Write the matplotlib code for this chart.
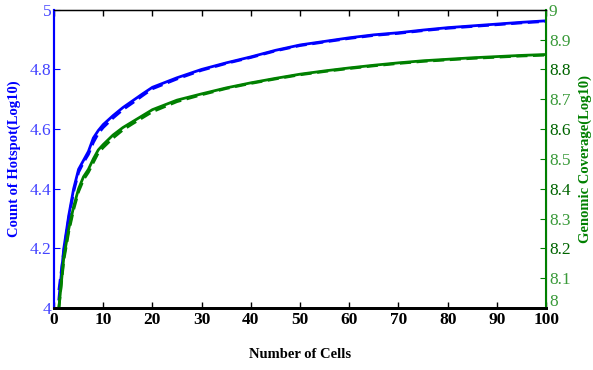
import matplotlib
matplotlib.use('Agg')
import matplotlib.pyplot as plt
import matplotlib.ticker as ticker
import matplotlib.transforms as mtransforms

# number of cells sampled
cells = [1, 2, 3, 4, 5, 6, 7, 8, 9, 10, 12, 14, 16, 18, 20, 25, 30, 35, 40, 45,
         50, 55, 60, 65, 70, 75, 80, 85, 90, 95, 100]

# count of hotspot (log10), solid and dashed
hotspot = [4.03, 4.20, 4.31, 4.40, 4.465, 4.495, 4.525, 4.57, 4.595, 4.615, 4.645,
           4.672, 4.695, 4.718, 4.740, 4.772, 4.800, 4.822, 4.842, 4.864, 4.882,
           4.894, 4.906, 4.916, 4.923, 4.932, 4.940, 4.946, 4.952, 4.958, 4.963]
hotspot_dash = [4.06, 4.19, 4.30, 4.39, 4.455, 4.488, 4.515, 4.555, 4.585, 4.605,
                4.637, 4.665, 4.688, 4.712, 4.735, 4.768, 4.797, 4.820, 4.840, 4.862,
                4.880, 4.892, 4.904, 4.914, 4.921, 4.930, 4.938, 4.944, 4.950, 4.956,
                4.961]

# genomic coverage (log10), solid and dashed
coverage = [8.00, 8.17, 8.265, 8.34, 8.40, 8.44, 8.465, 8.50, 8.53, 8.548, 8.58,
            8.605, 8.625, 8.645, 8.665, 8.697, 8.718, 8.738, 8.755, 8.770, 8.784,
            8.795, 8.805, 8.814, 8.822, 8.829, 8.834, 8.839, 8.843, 8.847, 8.850]
coverage_dash = [8.00, 8.16, 8.255, 8.33, 8.39, 8.43, 8.455, 8.488, 8.52, 8.538,
                 8.57, 8.597, 8.618, 8.638, 8.658, 8.692, 8.715, 8.736, 8.753, 8.768,
                 8.782, 8.793, 8.803, 8.812, 8.820, 8.827, 8.832, 8.837, 8.841, 8.845,
                 8.848]

plt.rcParams['font.family'] = ['Liberation Serif', 'DejaVu Serif']

blue = '#0000ff'
green = '#008000'

fig = plt.figure(figsize=(5.93, 3.70), dpi=100)
ax = fig.add_axes([0.091, 0.1676, 0.830, 0.806])

ax.plot(cells, hotspot, color=blue, linewidth=2)
ax.plot(cells, hotspot_dash, color=blue, linewidth=2, linestyle='--', dashes=(4, 2))
ax.set_xlim(0, 100)
ax.set_ylim(4, 5)
ax.yaxis.set_major_locator(ticker.MultipleLocator(0.2))
ax.yaxis.set_major_formatter(ticker.FuncFormatter(lambda v, p: '%g' % round(v, 1)))
ax.xaxis.set_major_locator(ticker.MultipleLocator(10))
ax.tick_params(axis='x', direction='in', length=4, top=True, labelsize=12.5,
               pad=3, width=1)
ax.tick_params(axis='y', direction='in', length=4, colors=blue, labelsize=12.5,
               labelcolor='#4444ff', pad=2)
for lab in ax.get_xticklabels():
    lab.set_fontweight('bold')
ax.spines['left'].set_color(blue)
ax.spines['left'].set_linewidth(1.5)
ax.spines['bottom'].set_linewidth(2)
ax.spines['top'].set_linewidth(1)
ax.set_ylabel('Count of Hotspot(Log10)', color=blue, fontsize=10.5,
              fontweight='bold', labelpad=6)
ax.set_xlabel('Number of Cells', fontsize=10.5, fontweight='bold', labelpad=14)

ax2 = ax.twinx()
ax2.plot(cells, coverage, color=green, linewidth=2)
ax2.plot(cells, coverage_dash, color=green, linewidth=2, linestyle='--', dashes=(4, 2))
ax2.set_ylim(8, 9)
ax2.yaxis.set_major_locator(ticker.MultipleLocator(0.1))
ax2.yaxis.set_major_formatter(ticker.FuncFormatter(lambda v, p: '%g' % round(v, 1)))
ax2.tick_params(axis='y', direction='in', length=4, colors=green, labelsize=12.5,
                pad=2)
ax2.spines['right'].set_color(green)
ax2.spines['right'].set_linewidth(1.5)
ax2.spines['left'].set_color(blue)
ax2.spines['left'].set_linewidth(1.5)
ax2.spines['bottom'].set_linewidth(2)
fig.canvas.draw()
for tick in ax2.yaxis.get_major_ticks():
    v = round(tick.get_loc() * 10)
    dark = v % 2 == 0 and v not in (80, 90)
    tick.label2.set_color('#006400' if dark else '#3a9a3a')
    if v == 80:
        # nudge the bottom "8" so it sits just clear of the "100" label
        tick.label2.set_verticalalignment('bottom')
        shift = mtransforms.ScaledTranslation(0, -2 / 100, fig.dpi_scale_trans)
        tick.label2.set_transform(tick.label2.get_transform() + shift)
ax2.set_ylabel('Genomic Coverage(Log10)', color=green, fontsize=10.5,
               fontweight='bold', rotation=90, labelpad=6)

fig.savefig('out.png', dpi=100)
